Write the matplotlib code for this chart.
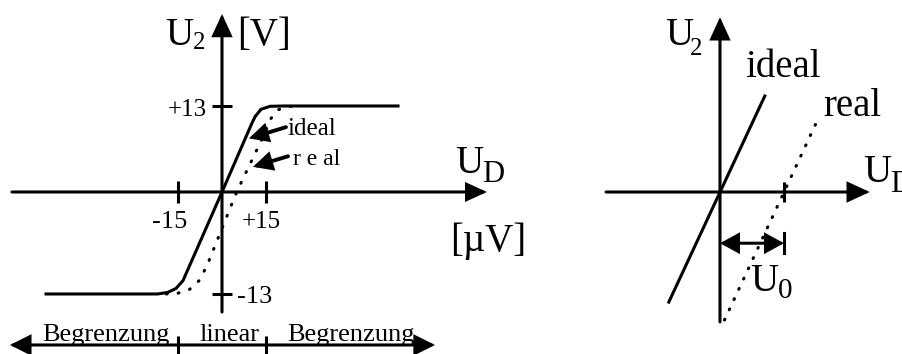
import numpy as np
import matplotlib.pyplot as plt

plt.rcParams['font.family'] = ['Liberation Serif', 'DejaVu Serif']

# left diagram: transfer curve of an op-amp, U_D in µV, U2 in V
ideal_ud = [-60, -22, -18.5, -15.7, -13.3, 0, 10.2, 11.3, 13.3, 16.4, 21, 60]
ideal_u2 = [-13, -13, -12.8, -12.3, -11.3, 0, 10.4, 11.4, 12.5, 12.95, 13, 13]
real_ud = [-19, -15, -11, -7.5, -4.7, 5, 14.7, 16.5, 19, 22, 26]
real_u2 = [-13, -12.9, -12.4, -11.2, -9, 0, 9, 11, 12.4, 12.9, 13]
ud_ticks = [-15, 15]
u2_ticks = [-13, 13]

# right diagram: offset voltage U0 (arbitrary units, U0 = 1)
zoom_ideal_x = [-0.8, 0.7]
zoom_ideal_y = [-1.72, 1.5]
zoom_real_x = [0.07, 1.55]
zoom_real_y = [-2.0, 1.18]
u0 = 1.0

W, H = 902, 354
LW = 2.2
NEG_STRETCH = 102 / 86  # negative half of the U2 axis is drawn a bit longer


def fwd(v):
    v = np.asarray(v, dtype=float)
    return np.where(v < 0, v * NEG_STRETCH, v)


def inv(v):
    v = np.asarray(v, dtype=float)
    return np.where(v < 0, v / NEG_STRETCH, v)


def put(x, y, s, size, **kw):
    fig.text(x / W, 1 - y / H, s, fontsize=size, va='baseline', **kw)


def arrow(ax, start, end, style='-|>', lw=LW, hl=13, hw=6):
    ax.annotate('', xy=end, xytext=start,
                arrowprops=dict(arrowstyle=f'{style},head_length={hl},head_width={hw}',
                                mutation_scale=1, lw=lw, color='black',
                                shrinkA=0, shrinkB=0, joinstyle='miter'))


def bare_axes(ax):
    for s in ax.spines.values():
        s.set_visible(False)
    ax.spines['left'].set_position(('data', 0))
    ax.spines['bottom'].set_position(('data', 0))
    ax.patch.set_visible(False)
    ax.tick_params(direction='inout', width=LW, labelbottom=False, labelleft=False)


fig = plt.figure(figsize=(W / 100, H / 100), dpi=100)

# ---- left: saturation curve ----
ax1 = fig.add_axes([0, 0, 540 / W, 1])
ax1.set_yscale('function', functions=(fwd, inv))
ax1.set_xlim(-75.68, 108.41)
ax1.set_ylim(-20.65, 29.02)
bare_axes(ax1)
ax1.set_xticks(ud_ticks)
ax1.set_yticks(u2_ticks)
ax1.tick_params(axis='x', length=15.8)
ax1.tick_params(axis='y', length=14.4)
ax1.minorticks_off()

arrow(ax1, (0, -15.3), (0, 26.9), hl=13, hw=6)
arrow(ax1, (-71.6, 0), (90.3, 0), hl=12, hw=5.5)

ax1.plot(ideal_ud, ideal_u2, color='black', lw=LW, solid_joinstyle='round')
ax1.plot(real_ud, real_u2, color='black', lw=LW,
         linestyle=(0, (0.3, 3.6)), dash_capstyle='round')

# pointers from the labels to the curves
arrow(ax1, (21.8, 9.8), (9.2, 8.1), lw=2.8, hl=10, hw=5)
arrow(ax1, (22.5, 5.4), (10.6, 3.8), lw=2.8, hl=10, hw=5)

# region bar along the bottom
arrow(ax1, (-72.3, -19.5), (72.6, -19.5), style='<|-|>', hl=12, hw=6)
ax1.vlines(ud_ticks, -20.65, -18.4, color='black', lw=LW)

put(165, 45, 'U', 28)
put(193, 49, '2', 18)
put(237, 45, '[V]', 28)
put(207, 116, '+13', 18, ha='right')
put(170, 228, '-15', 19, ha='center')
put(242, 228, '+15', 18)
put(237, 303, '-13', 19)
put(287, 135, 'ideal', 18)
put(293, 165, 'r e al', 17)
put(455, 173, 'U', 28)
put(482, 182, 'D', 22)
put(450, 251, '[µV]', 28)
put(42, 341, 'Begrenzung', 19)
put(199, 341, 'linear', 19)
put(287, 341, 'Begrenzung', 19)

# ---- right: offset voltage ----
ax2 = fig.add_axes([560 / W, 0, 342 / W, 1])
ax2.set_xlim(-2.5, 2.844)
ax2.set_ylim(-2.531, 3.0)
bare_axes(ax2)
ax2.set_xticks([u0])
ax2.set_yticks([])
ax2.tick_params(axis='x', length=14.4)

arrow(ax2, (0, -2.03), (0, 2.73), hl=13, hw=6)
arrow(ax2, (-1.78, 0), (2.34, 0), hl=13, hw=6)

ax2.plot(zoom_ideal_x, zoom_ideal_y, color='black', lw=LW)
ax2.plot(zoom_real_x, zoom_real_y, color='black', lw=LW,
         linestyle=(0, (0.3, 3.4)), dash_capstyle='round')

arrow(ax2, (0, -0.8), (u0, -0.8), style='<|-|>', lw=LW, hl=11, hw=6)
ax2.plot([u0, u0], [-0.64, -0.95], color='black', lw=LW)

put(665, 45, 'U', 28)
put(690, 55, '2', 18)
put(745, 77, 'ideal', 28)
put(823, 116, 'real', 28)
put(863, 182, 'U', 28)
put(890, 192, 'D', 22)
put(750, 291, 'U', 28)
put(778, 298, '0', 21)

fig.savefig('out.png', dpi=100)
